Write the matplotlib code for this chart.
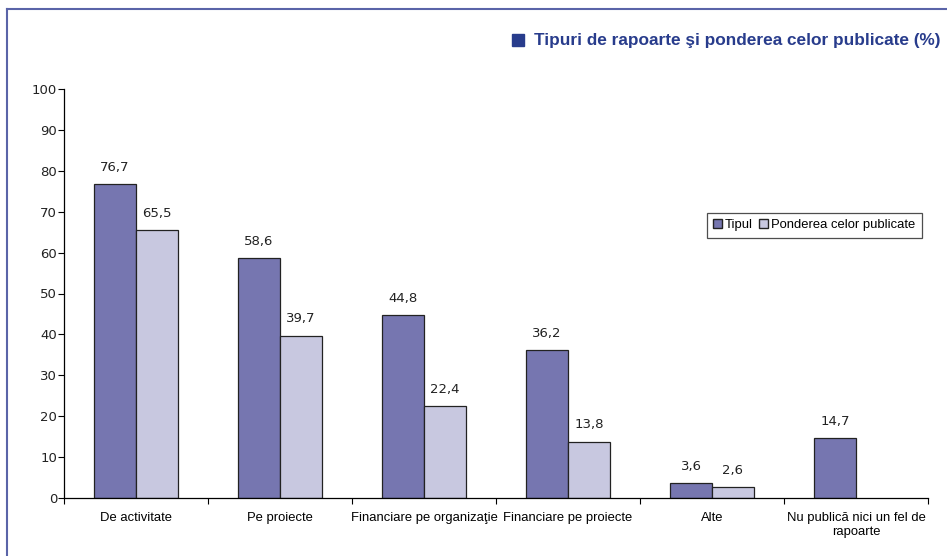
import matplotlib.pyplot as plt
import matplotlib.patches as mpatches
from matplotlib.lines import Line2D
import numpy as np

categories = ["De activitate", "Pe proiecte", "Financiare pe organizaţie",
              "Financiare pe proiecte", "Alte", "Nu publică nici un fel de\nrapoarte"]
tipul = [76.7, 58.6, 44.8, 36.2, 3.6, 14.7]
ponderea = [65.5, 39.7, 22.4, 13.8, 2.6, None]

dark = "#7676b0"
light = "#c8c8e0"
title_col = "#283c8c"
num_font = ['DejaVu Sans']

plt.rcParams['font.family'] = ['Liberation Sans', 'DejaVu Sans']

fig = plt.figure(figsize=(9.47, 5.56), dpi=100)
ax = fig.add_axes([64/947, 1-498/556, (928-64)/947, (498-89)/556])

x = np.arange(len(categories))
w = 0.29
for i in range(len(categories)):
    ax.bar(x[i] - w/2, tipul[i], w, color=dark, edgecolor="#222222", linewidth=0.9)
    ax.text(x[i] - w/2, tipul[i] + 2.5, f"{tipul[i]:.1f}".replace(".", ","),
            ha="center", va="bottom", fontsize=9.5, color="#222222", family=num_font)
    if ponderea[i] is not None:
        ax.bar(x[i] + w/2, ponderea[i], w, color=light, edgecolor="#222222", linewidth=0.9)
        ax.text(x[i] + w/2, ponderea[i] + 2.5, f"{ponderea[i]:.1f}".replace(".", ","),
                ha="center", va="bottom", fontsize=9.5, color="#222222", family=num_font)

ax.set_xlim(-0.5, len(categories) - 0.5)
ax.set_ylim(0, 100)
ax.set_yticks(range(0, 101, 10))
for lab in ax.get_yticklabels():
    lab.set_family(num_font)
ax.set_xticks(np.arange(-0.5, len(categories), 1.0))
ax.set_xticklabels([])
ax.set_xticks(x, minor=True)
ax.set_xticklabels(categories, minor=True, fontsize=9.4)
ax.tick_params(axis="x", which="minor", length=0, pad=10)
ax.tick_params(axis="x", which="major", length=4, direction="out")
ax.tick_params(axis="y", length=4, labelsize=9.5, pad=1, labelcolor="#222222")
for s in ["top", "right"]:
    ax.spines[s].set_visible(False)
ax.spines["left"].set_linewidth(0.9)
ax.spines["bottom"].set_linewidth(0.9)

handles = [mpatches.Patch(facecolor=dark, edgecolor="#222222", label="Tipul"),
           mpatches.Patch(facecolor=light, edgecolor="#222222", label="Ponderea celor publicate")]
leg = ax.legend(handles=handles, ncol=2, loc="upper left",
                bbox_to_anchor=((700-64)/864, (498-206)/409), frameon=True,
                fancybox=False, fontsize=9.4, handlelength=0.7, handleheight=0.7,
                handletextpad=0.2, columnspacing=0.5, borderpad=0.5)
leg.get_frame().set_edgecolor("#222222")
leg.get_frame().set_linewidth(0.9)

# frame lines of the page
fig.add_artist(Line2D([7/947, 7/947], [0, 1-9/556], color="#5a64a8", linewidth=1.5))
fig.add_artist(Line2D([7/947, 1], [1-9/556, 1-9/556], color="#5a64a8", linewidth=1.5))

fig.add_artist(mpatches.Rectangle((512/947, 1-46/556), 12/947, 12/556,
                                  transform=fig.transFigure, color=title_col))
fig.text(940/947, 1-40/556, "Tipuri de rapoarte şi ponderea celor publicate (%)",
         color=title_col, fontsize=12.4, fontweight="bold", va="center", ha="right")

fig.savefig("out.png", dpi=100)
